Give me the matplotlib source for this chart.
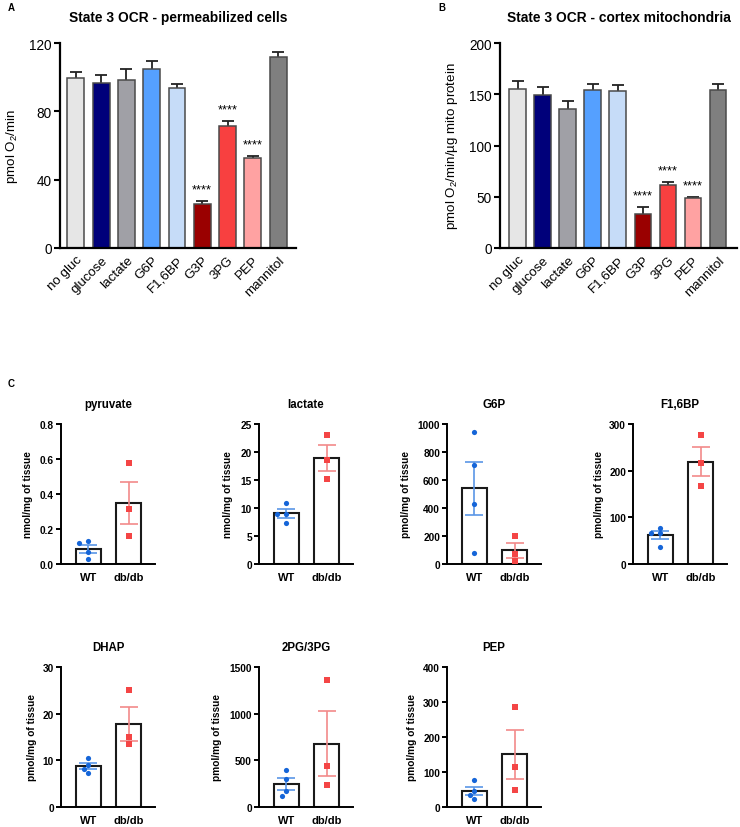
import numpy as np
import matplotlib
matplotlib.use('Agg')
import matplotlib.pyplot as plt

plt.rcParams['font.family'] = ['Liberation Sans', 'DejaVu Sans']
plt.rcParams['mathtext.fontset'] = 'custom'
plt.rcParams['mathtext.rm'] = 'Liberation Sans'
plt.rcParams['mathtext.default'] = 'regular'

# ---------------- Data: panels A and B ----------------
conditions = ['no gluc', 'glucose', 'lactate', 'G6P', 'F1,6BP', 'G3P', '3PG', 'PEP', 'mannitol']
cells_mean = [99.3, 96.5, 98.1, 104.7, 93.4, 25.6, 71.7, 52.6, 111.6]
cells_err = [3.5, 4.7, 6.6, 4.7, 2.6, 1.8, 2.8, 1.3, 3.1]
mito_mean = [155.0, 149.2, 135.2, 153.7, 152.8, 33.6, 61.6, 48.9, 154.4]
mito_err = [7.9, 7.8, 7.8, 5.9, 5.8, 6.8, 2.9, 1.3, 5.9]
signif = ['', '', '', '', '', '****', '****', '****', '']
bar_colors = ['#E6E6E6', '#00007A', '#A0A0A6', '#55A0FF', '#C6DCF8',
              '#9A0000', '#F84040', '#FFA2A2', '#7F7F7F']

# ---------------- Data: panel C ----------------
groups = ['WT', 'db/db']
pyruvate_wt = [0.122, 0.130, 0.070, 0.029]
pyruvate_db = [0.575, 0.314, 0.160]
lactate_wt = [10.95, 8.93, 8.87, 7.38]
lactate_db = [23.0, 18.6, 15.2]
g6p_wt = [946, 708, 426, 78]
g6p_db = [197, 70, 25]
f16bp_wt = [77.9, 65.9, 65.5, 36.4]
f16bp_db = [275.7, 215.7, 166.4]
dhap_wt = [10.5, 8.9, 8.2, 7.3]
dhap_db = [25.1, 15.0, 13.4]
pg_wt = [392, 296, 171, 118]
pg_db = [1364, 436, 232]
pep_wt = [77, 46, 35, 22]
pep_db = [287, 115, 50]

W, H = 740, 828
fig = plt.figure(figsize=(W / 100, H / 100), dpi=100)


def px_axes(left, top, right, bottom):
    return fig.add_axes([left / W, (H - bottom) / H, (right - left) / W, (bottom - top) / H])


def bar_panel(ax, means, errs, ymax, yticks, ylabel, title, xlim):
    x = np.arange(len(conditions))
    ax.errorbar(x, means, yerr=errs, fmt='none', ecolor='#222222', elinewidth=1.3,
                capsize=4.5, capthick=1.3, zorder=1)
    ax.bar(x, means, width=0.67, color=bar_colors, edgecolor='#4A4A4A', linewidth=1.1, zorder=2)
    for xi, m, e, s in zip(x, means, errs, signif):
        if s:
            ax.annotate(s, (xi, m + e), xytext=(0, 4), textcoords='offset points',
                        ha='center', va='bottom', fontsize=9.2)
    ax.set_xlim(*xlim)
    ax.set_ylim(0, ymax)
    ax.set_yticks(yticks)
    ax.set_xticks(x)
    ax.set_xticklabels(conditions, rotation=45, ha='right', rotation_mode='anchor', fontsize=9.6)
    ax.tick_params(axis='x', length=0, pad=4)
    ax.tick_params(axis='y', length=4, width=1.5, labelsize=9.8, pad=2)
    for sp in ['top', 'right']:
        ax.spines[sp].set_visible(False)
    for sp in ['left', 'bottom']:
        ax.spines[sp].set_linewidth(1.6)
    ax.set_ylabel(ylabel, fontsize=9.6)
    ax.yaxis.set_label_coords(-0.17, 0.5)
    ax.set_title(title, fontsize=9.9, fontweight='bold', pad=16)


axA = px_axes(60, 44, 296, 249)
bar_panel(axA, cells_mean, cells_err, 120, [0, 40, 80, 120], 'pmol O$_2$/min',
          'State 3 OCR - permeabilized cells', (-0.63, 8.71))
axB = px_axes(500, 44, 737, 249)
bar_panel(axB, mito_mean, mito_err, 200, [0, 50, 100, 150, 200],
          'pmol O$_2$/min/µg mito protein', 'State 3 OCR - cortex mitochondria', (-0.71, 8.76))

fig.text(8 / W, 1 - 8 / H, 'A', fontsize=7, fontweight='bold', ha='left', va='center')
fig.text(438 / W, 1 - 8 / H, 'B', fontsize=7, fontweight='bold', ha='left', va='center')
fig.text(8 / W, 1 - 384 / H, 'C', fontsize=7, fontweight='bold', ha='left', va='center')

# ---------------- Panel C ----------------
wt_color = '#1565D8'
db_color = '#F44545'
wt_err_color = '#5A96E6'
db_err_color = '#F28A8A'


def swarm(vals, ymax, ax_h_px=140.0, unit_px=40.0, step_px=4.4, min_d=5.0):
    vals = np.asarray(vals, float)
    order = np.argsort(-vals)
    ypx = vals / ymax * ax_h_px
    placed = []
    offs = np.zeros(len(vals))
    cands = [0, -1, 1, -2, 2]
    for i in order:
        for c in cands:
            xo = c * step_px
            if all(np.hypot(xo - px, ypx[i] - py) >= min_d for px, py in placed):
                break
        offs[i] = xo / unit_px
        placed.append((xo, ypx[i]))
    return offs


def metab_panel(ax, wt, db, ymax, yticks, fmt, title, ylabel, label_x):
    data = [wt, db]
    colors = [wt_color, db_color]
    ecolors = [wt_err_color, db_err_color]
    markers = ['o', 's']
    for i, vals in enumerate(data):
        vals = np.asarray(vals, float)
        m = vals.mean()
        sem = vals.std(ddof=1) / np.sqrt(len(vals))
        ax.bar(i, m, width=0.625, color='white', edgecolor='#1a1a1a', linewidth=1.5, zorder=1)
        ax.errorbar(i, m, yerr=sem, fmt='none', ecolor=ecolors[i], elinewidth=1.2,
                    capsize=6.5, capthick=1.2, zorder=2)
        xo = swarm(vals, ymax)
        ax.scatter(i + xo, vals, s=14, marker=markers[i], color=colors[i],
                   linewidths=0, zorder=3)
    ax.set_xlim(-0.675, 1.65)
    ax.set_ylim(0, ymax)
    ax.set_yticks(yticks)
    ax.set_yticklabels([fmt.format(t) for t in yticks])
    ax.set_xticks([0, 1])
    ax.set_xticklabels(groups, fontsize=8, fontweight='bold')
    ax.tick_params(axis='x', length=0, pad=6)
    ax.tick_params(axis='y', length=3.5, width=1.4, labelsize=7.3, pad=1.5)
    for lab in ax.get_yticklabels():
        lab.set_fontweight('bold')
    for sp in ['top', 'right']:
        ax.spines[sp].set_visible(False)
    for sp in ['left', 'bottom']:
        ax.spines[sp].set_linewidth(1.4)
    ax.set_ylabel(ylabel, fontsize=7.3, fontweight='bold')
    ax.yaxis.set_label_coords(label_x, 0.5)
    ax.set_title(title, fontsize=8.3, fontweight='bold', pad=12)


col_left = [61, 259, 447, 633]
row1 = (425, 565)
row2 = (668, 808)
wpx = 94

ax = px_axes(col_left[0], row1[0], col_left[0] + wpx, row1[1])
metab_panel(ax, pyruvate_wt, pyruvate_db, 0.8, [0, 0.2, 0.4, 0.6, 0.8], '{:.1f}',
            'pyruvate', 'nmol/mg of tissue', -0.30)
ax = px_axes(col_left[1], row1[0], col_left[1] + wpx, row1[1])
metab_panel(ax, lactate_wt, lactate_db, 25, [0, 5, 10, 15, 20, 25], '{:.0f}',
            'lactate', 'nmol/mg of tissue', -0.28)
ax = px_axes(col_left[2], row1[0], col_left[2] + wpx, row1[1])
metab_panel(ax, g6p_wt, g6p_db, 1000, [0, 200, 400, 600, 800, 1000], '{:.0f}',
            'G6P', 'pmol/mg of tissue', -0.38)
ax = px_axes(col_left[3], row1[0], col_left[3] + wpx, row1[1])
metab_panel(ax, f16bp_wt, f16bp_db, 300, [0, 100, 200, 300], '{:.0f}',
            'F1,6BP', 'pmol/mg of tissue', -0.31)
ax = px_axes(col_left[0], row2[0], col_left[0] + wpx, row2[1])
metab_panel(ax, dhap_wt, dhap_db, 30, [0, 10, 20, 30], '{:.0f}',
            'DHAP', 'pmol/mg of tissue', -0.26)
ax = px_axes(col_left[1], row2[0], col_left[1] + wpx, row2[1])
metab_panel(ax, pg_wt, pg_db, 1500, [0, 500, 1000, 1500], '{:.0f}',
            '2PG/3PG', 'pmol/mg of tissue', -0.39)
ax = px_axes(col_left[2], row2[0], col_left[2] + wpx, row2[1])
metab_panel(ax, pep_wt, pep_db, 400, [0, 100, 200, 300, 400], '{:.0f}',
            'PEP', 'pmol/mg of tissue', -0.32)

fig.savefig('out.png', dpi=100, facecolor='white')
